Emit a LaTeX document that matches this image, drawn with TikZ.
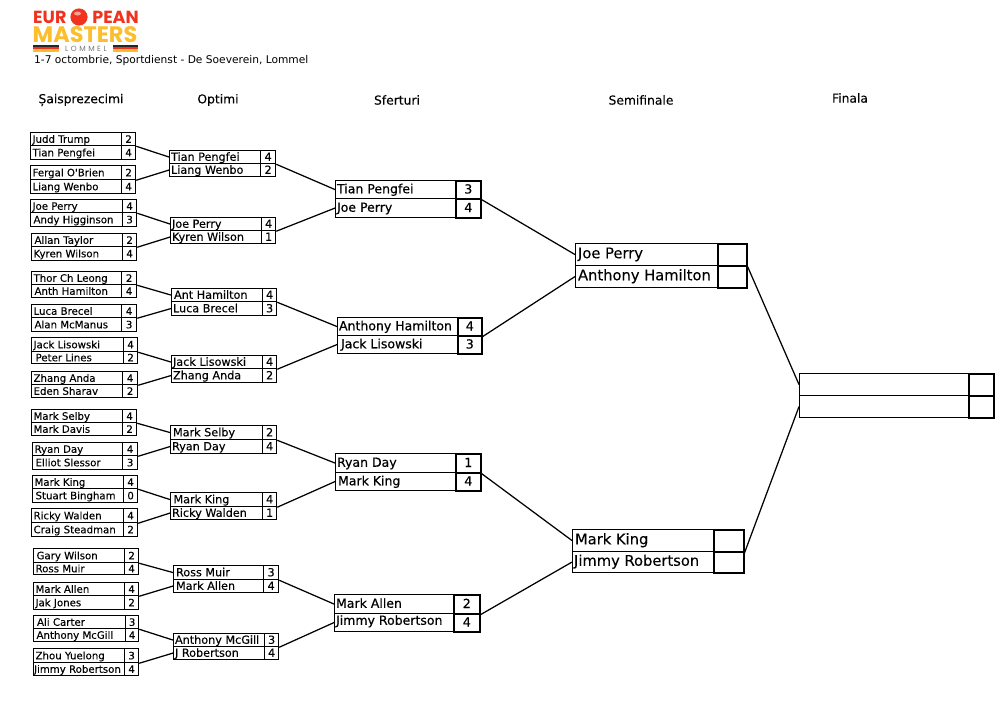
\documentclass[tikz,border=0pt]{standalone}
\usepackage{fontspec}
\setmainfont{DejaVu Sans}
\newfontfamily\lightheavy{DejaVu Sans}[FakeBold=0.12]
\newfontfamily\heavy{DejaVu Sans}[FakeBold=0.5]
\newfontfamily\logofont{Poppins}
\definecolor{logored}{RGB}{240,50,30}
\definecolor{logoyellow}{RGB}{251,190,45}
\definecolor{logogrey}{RGB}{120,120,120}
\tikzset{
  x=1pt,y=-1pt,
  namecell/.style={draw=black,line width=1.1pt,inner sep=0pt,anchor=north west,text height=0.74em,text depth=0pt},
  scorecell/.style={draw=black,line width=\scorelw,inner sep=0pt,anchor=north west,align=center,text height=0.74em,text depth=0pt},
  conn/.style={line width=1.25pt,draw=black},
  head/.style={inner sep=0pt,font=\lightheavy\fontsize{12.3}{14}\selectfont,anchor=center},
}
\def\scorelw{1.25pt}
\newcommand{\rowpair}[9]{%
  % id, x0, xdiv, x1, top, mid, bot, font, pad (names and scores in \na \sa \nb \sb)
  \pgfmathsetmacro\wn{#3-#2}\pgfmathsetmacro\ws{#4-#3}%
  \pgfmathsetmacro\ha{#6-#5}\pgfmathsetmacro\hb{#7-#6}%
  \node[namecell,minimum width=\wn pt,minimum height=\ha pt,font=#8] (#1-1) at (#2,#5) {\makebox[\wn pt][l]{\hspace{#9pt}\na}};
  \node[namecell,minimum width=\wn pt,minimum height=\hb pt,font=#8] (#1-2) at (#2,#6) {\makebox[\wn pt][l]{\hspace{#9pt}\nb}};
  \node[scorecell,minimum width=\ws pt,minimum height=\ha pt,font=#8] (#1-s) at (#3,#5) {\sa};
  \node[scorecell,minimum width=\ws pt,minimum height=\hb pt,font=#8] (#1-t) at (#3,#6) {\sb};
}
\begin{document}
\begin{tikzpicture}
\useasboundingbox[fill=white] (0,0) rectangle (1000,707);

% logo
\node[inner sep=0pt,anchor=west,text=logored,font=\logofont\bfseries\fontsize{17.5}{17.5}\selectfont] (logoa) at (33,17.5) {EUR};
\fill[logored] (79,17) circle (8.6);
\fill[white,opacity=0.55] (77.5,13.5) ellipse (3.5 and 2);
\node[inner sep=0pt,anchor=east,text=logored,font=\logofont\bfseries\fontsize{17.5}{17.5}\selectfont] (logob) at (139,17.5) {PEAN};
\node[inner sep=0pt,anchor=west,text=logoyellow,font=\logofont\bfseries\fontsize{22.4}{22.4}\selectfont] (logoc) at (32.5,34.6) {MASTERS};
\node[inner sep=0pt,font=\logofont\fontsize{7.5}{7.5}\selectfont,text=logogrey] (logod) at (86,48.8) {L\,\,O\,\,M\,\,M\,\,E\,\,L};
\foreach \xa/\xb in {33/59,113/138}{
  \fill[black!85] (\xa,45) rectangle (\xb,47);
  \fill[logored] (\xa,47) rectangle (\xb,49);
  \fill[logoyellow] (\xa,49) rectangle (\xb,51.5);
}
\node[inner sep=0pt,anchor=west,font=\fontsize{10.65}{12}\selectfont,text=black] (sub) at (34,60.5) {1-7 octombrie, Sportdienst - De Soeverein, Lommel};

% headers
\node[head] (h1) at (81,100) {Șaisprezecimi};
\node[head] (h2) at (218,100) {Optimi};
\node[head] (h3) at (397,100) {Sferturi};
\node[head] (h4) at (641,100) {Semifinale};
\node[head] (h5) at (850,98) {Finala};

% round of 32
\foreach \id/\xa/\xb/\xc/\ya/\yb/\yc/\na/\sa/\nb/\sb in {
 a1/30/121/135/132/145/159/Judd Trump/2/Tian Pengfei/4,
 a2/30/121/135/165/179/193/Fergal O'Brien/2/Liang Wenbo/4,
 a3/30/122/136/199/212/226/Joe Perry/4/\hspace{1pt}Andy Higginson/3,
 a4/31/122/136/233/246/260/\hspace{1pt}Allan Taylor/2/Kyren Wilson/4,
 a5/31/121/136/271/284/297/Thor Ch Leong/2/\hspace{1pt}Anth Hamilton/4,
 a6/31/121/136/304/317/331/Luca Brecel/4/\hspace{1pt}Alan McManus/3,
 a7/31/123/137/337/351/363/Jack Lisowski/4/\hspace{2pt}Peter Lines/2,
 a8/31/122/137/371/384/397/Zhang Anda/4/Eden Sharav/2,
 a9/31/122/136/409/422/435/Mark Selby/4/Mark Davis/2,
 a10/32/122/137/442/455/469/Ryan Day/4/\hspace{1pt}Elliot Slessor/3,
 a11/32/123/137/475/488/502/Mark King/4/\hspace{1pt}Stuart Bingham/0,
 a12/31/123/137/508/522/536/Ricky Walden/4/Craig Steadman/2,
 a13/33/124/138/548/562/574/\hspace{1pt}Gary Wilson/2/Ross Muir/4,
 a14/33/124/138/582/595/609/Mark Allen/4/Jak Jones/2,
 a15/33/125/138/615/628/641/\hspace{1.5pt}Ali Carter/3/\hspace{1pt}Anthony McGill/4,
 a16/33/124/138/648/662/675/Zhou Yuelong/3/\hspace{-1.5pt}Jimmy Robertson/4}
 {\rowpair{\id}{\xa}{\xb}{\xc}{\ya}{\yb}{\yc}{\lightheavy\fontsize{10.2}{10.2}\selectfont}{2}}

% round of 16
\foreach \id/\xa/\xb/\xc/\ya/\yb/\yc/\na/\sa/\nb/\sb in {
 b1/169/260/275/150/163/176/Tian Pengfei/4/Liang Wenbo/2,
 b2/170/261/275/217/230/243/Joe Perry/4/Kyren Wilson/1,
 b3/171/262/276/288/301/315/\hspace{1pt}Ant Hamilton/4/Luca Brecel/3,
 b4/171/262/276/355/368/382/Jack Lisowski/4/Zhang Anda/2,
 b5/170/262/276/425/439/453/\hspace{1pt}Mark Selby/2/Ryan Day/4,
 b6/170/262/276/492/506/519/\hspace{1.5pt}Mark King/4/Ricky Walden/1,
 b7/173/263/278/565/579/592/\hspace{1pt}Ross Muir/3/\hspace{1pt}Mark Allen/4,
 b8/173/264/278/633/646/659/Anthony McGill/3/J Robertson/4}
 {\rowpair{\id}{\xa}{\xb}{\xc}{\ya}{\yb}{\yc}{\lightheavy\fontsize{11.2}{11.2}\selectfont}{1.5}}

\def\scorelw{1.6pt}
% quarter-finals
\foreach \id/\xa/\xb/\xc/\ya/\yb/\yc/\na/\sa/\nb/\sb in {
 c1/335/455/480/180/198/217/Tian Pengfei/3/Joe Perry/4,
 c2/337/457/481/317/335/353/Anthony Hamilton/4/\hspace{2pt}Jack Lisowski/3,
 c3/335/455/480/453/472/490/Ryan Day/1/\hspace{1pt}Mark King/4,
 c4/334/453/479/594/613/631/Mark Allen/2/\raisebox{1.5pt}{Jimmy Robertson}/4}
 {\rowpair{\id}{\xa}{\xb}{\xc}{\ya}{\yb}{\yc}{\heavy\fontsize{12.5}{12.5}\selectfont}{1.5}}

% semi-finals
\foreach \id/\xa/\xb/\xc/\ya/\yb/\yc/\na/\sa/\nb/\sb in {
 d1/575/717/746/243/265/287/Joe Perry/{}/Anthony Hamilton/{},
 d2/572/713/743/529/551/572/Mark King/{}/\hspace{-1pt}Jimmy Robertson/{}}
 {\rowpair{\id}{\xa}{\xb}{\xc}{\ya}{\yb}{\yc}{\lightheavy\fontsize{14.7}{14.7}\selectfont}{2.5}}

% final
\def\na{}\def\nb{}\def\sa{}\def\sb{}
\rowpair{e}{799}{968}{993}{373}{395}{417}{\fontsize{12}{12}\selectfont}{2}

% connectors
\foreach \p/\q in {a1/b1,a3/b2,a5/b3,a7/b4,a9/b5,a11/b6,a13/b7,a15/b8,
                   b1/c1,b3/c2,b5/c3,b7/c4,c1/d1,c3/d2,d1/e}
  \draw[conn] (\p-s.south east) -- (\q-1.west);
\foreach \p/\q in {a2/b1,a4/b2,a6/b3,a8/b4,a10/b5,a12/b6,a14/b7,a16/b8,
                   b2/c1,b4/c2,b6/c3,b8/c4,c2/d1,c4/d2,d2/e}
  \draw[conn] (\p-s.south east) -- (\q-2.west);
\end{tikzpicture}
\end{document}
